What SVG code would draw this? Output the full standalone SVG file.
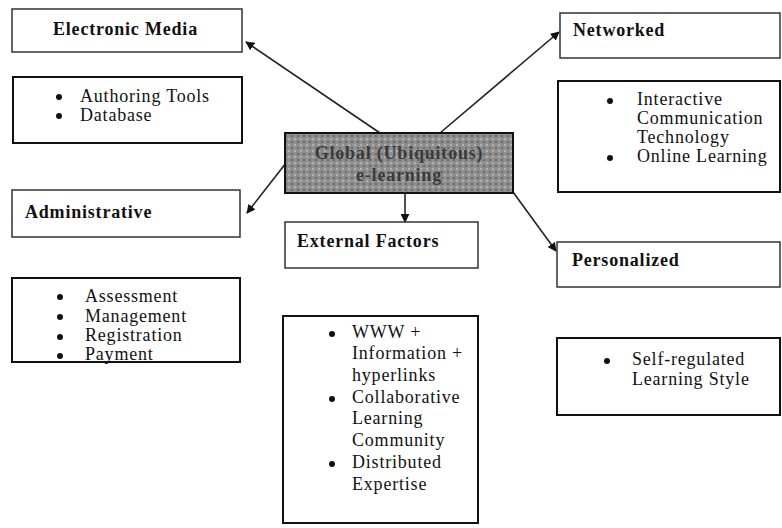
<svg xmlns="http://www.w3.org/2000/svg" width="782" height="528" viewBox="0 0 782 528">
<style>
.title{fill:#fff;stroke:#333;stroke-width:1.5}
.list{fill:#fff;stroke:#111;stroke-width:2}
text{font-family:"Liberation Serif","Times New Roman",serif;fill:#111;letter-spacing:0.8px}
.tt{font-weight:bold;font-size:18px}
.lt{font-size:18px}
.con{stroke:#222;stroke-width:1.6;fill:none;marker-end:url(#ah)}
</style>
<defs>
<marker id="ah" viewBox="0 0 10 10" refX="9" refY="5" markerWidth="9" markerHeight="9" markerUnits="userSpaceOnUse" orient="auto">
<path d="M0,0 L10,5 L0,10 z" fill="#111"/>
</marker>
<pattern id="mottle" width="6" height="6" patternUnits="userSpaceOnUse">
<rect width="6" height="6" fill="#8e8e8e"/>
<rect x="0" y="0" width="2" height="2" fill="#b0b0b0"/>
<rect x="3" y="3" width="2" height="2" fill="#6a6a6a"/>
</pattern>
</defs>
<g id="connectors">
<line class="con" x1="380" y1="133" x2="246" y2="42"/>
<line class="con" x1="440" y1="133" x2="559" y2="32"/>
<line class="con" x1="286" y1="163" x2="247" y2="213"/>
<line class="con" x1="513" y1="192" x2="556" y2="251"/>
<line class="con" x1="405" y1="194" x2="405" y2="222"/>
</g>
<g id="center">
<rect x="285" y="133" width="228" height="60" fill="url(#mottle)" stroke="#111" stroke-width="2"/>
<text class="tt" x="399" y="159" text-anchor="middle" style="fill:#3a3a3a">Global (Ubiquitous)</text>
<text class="tt" x="399" y="181" text-anchor="middle" style="fill:#3a3a3a">e-learning</text>
</g>
<g id="electronic-media">
<rect class="title" x="12" y="9" width="230" height="43"/>
<text class="tt" x="53" y="35">Electronic Media</text>
</g>
<g id="electronic-media-list">
<rect class="list" x="13" y="77" width="229" height="66"/>
<circle cx="59" cy="97" r="3" fill="#111"/>
<text class="lt" x="80" y="102">Authoring Tools</text>
<circle cx="59" cy="116" r="3" fill="#111"/>
<text class="lt" x="80" y="121">Database</text>
</g>
<g id="administrative">
<rect class="title" x="12" y="190" width="228" height="47"/>
<text class="tt" x="25" y="218">Administrative</text>
</g>
<g id="administrative-list">
<rect class="list" x="12" y="278" width="228" height="84"/>
<circle cx="60" cy="297" r="3" fill="#111"/>
<text class="lt" x="85" y="302">Assessment</text>
<circle cx="60" cy="317" r="3" fill="#111"/>
<text class="lt" x="85" y="322">Management</text>
<circle cx="60" cy="337" r="3" fill="#111"/>
<text class="lt" x="85" y="341">Registration</text>
<circle cx="60" cy="356" r="3" fill="#111"/>
<text class="lt" x="85" y="360">Payment</text>
</g>
<g id="networked">
<rect class="title" x="560" y="13" width="220" height="45"/>
<text class="tt" x="573" y="36">Networked</text>
</g>
<g id="networked-list">
<rect class="list" x="558" y="81" width="222" height="111"/>
<circle cx="610" cy="101" r="3" fill="#111"/>
<text class="lt" x="637" y="105">Interactive</text>
<text class="lt" x="637" y="124">Communication</text>
<text class="lt" x="637" y="143">Technology</text>
<circle cx="610" cy="158" r="3" fill="#111"/>
<text class="lt" x="637" y="162">Online Learning</text>
</g>
<g id="external-factors">
<rect class="title" x="285" y="222" width="193" height="46"/>
<text class="tt" x="297" y="247">External Factors</text>
</g>
<g id="external-list">
<rect class="list" x="283" y="316" width="195" height="207"/>
<circle cx="332" cy="334" r="3" fill="#111"/>
<text class="lt" x="352" y="338">WWW +</text>
<text class="lt" x="352" y="359">Information +</text>
<text class="lt" x="352" y="381">hyperlinks</text>
<circle cx="332" cy="399" r="3" fill="#111"/>
<text class="lt" x="352" y="403">Collaborative</text>
<text class="lt" x="352" y="424">Learning</text>
<text class="lt" x="352" y="446">Community</text>
<circle cx="332" cy="464" r="3" fill="#111"/>
<text class="lt" x="352" y="468">Distributed</text>
<text class="lt" x="352" y="490">Expertise</text>
</g>
<g id="personalized">
<rect class="title" x="557" y="242" width="223" height="45"/>
<text class="tt" x="572" y="266">Personalized</text>
</g>
<g id="personalized-list">
<rect class="list" x="557" y="338" width="223" height="77"/>
<circle cx="607" cy="361" r="3" fill="#111"/>
<text class="lt" x="632" y="365">Self-regulated</text>
<text class="lt" x="632" y="385">Learning Style</text>
</g>
</svg>
